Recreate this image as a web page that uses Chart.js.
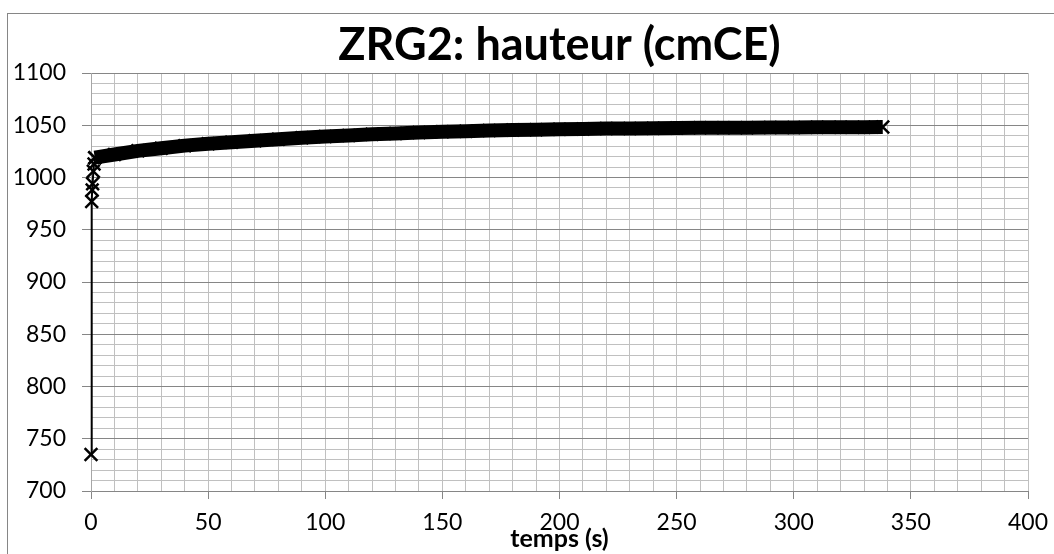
<!DOCTYPE html>
<html>
<head>
<meta charset="utf-8">
<title>ZRG2: hauteur (cmCE)</title>
<script src="https://cdn.jsdelivr.net/npm/chart.js@4/dist/chart.umd.min.js"></script>
<style>
    body { margin: 0; background: #fff; }
    #wrap { position: relative; width: 1054px; height: 554px; overflow: hidden; }
    /* outer frame, only top and left edges are visible */
    #frame { position: absolute; left: 7px; top: 13px; width: 1100px; height: 600px;
             border-left: 1px solid #868686; border-top: 1px solid #868686; }
    #chart { position: absolute; left: 0; top: 0; }
</style>
</head>
<body>
<div id="wrap">
    <div id="frame"></div>
    <canvas id="chart" width="1054" height="554"></canvas>
</div>
<script>
// --- DATA ---
// first seconds: the water level jumps up, drawn with visible crosses
const earlyTime   = [0, 0.3, 0.5, 0.7, 1.0, 1.3, 1.6];
const earlyHeight = [735, 977, 988, 994, 1006, 1013, 1019];

// rest of the record: dense markers, they merge into a thick band
const bandTime   = [1.6, 10, 20, 30, 40, 50, 60, 70, 80, 90, 100, 110, 120, 130, 140, 150,
                    160, 170, 180, 190, 200, 210, 220, 230, 240, 250, 260, 270, 280, 290,
                    300, 310, 320, 330, 338];
const bandHeight = [1019, 1022, 1025.5, 1028, 1030.5, 1032.3, 1033.8, 1035.2, 1036.6, 1038,
                    1039.2, 1040.3, 1041.3, 1042.2, 1043, 1043.7, 1044.3, 1044.9, 1045.4,
                    1045.8, 1046.2, 1046.5, 1046.8, 1047, 1047.2, 1047.4, 1047.5, 1047.6,
                    1047.7, 1047.8, 1047.9, 1048, 1048.1, 1048.2, 1048.3];

const xMin = 0, xMax = 400, xStep = 10;
const yMin = 700, yMax = 1100, yStep = 10;
const labelEvery = 50;

const FONT = 'Lato, "Open Sans", sans-serif';
const MINOR = '#c0c0c0';
const MAJOR = '#868686';

const toPoints = (xs, ys) => xs.map((x, i) => ({ x: x, y: ys[i] }));

const isMajor = v => Math.abs(v % labelEvery) < 1e-6;

new Chart(document.getElementById('chart'), {
    type: 'line',
    data: {
        datasets: [
            {
                label: 'ZRG2 bande',
                data: toPoints(bandTime, bandHeight),
                borderColor: '#000',
                borderWidth: 14,
                pointStyle: 'crossRot',
                pointRadius: 9,
                pointBorderWidth: 2.5,
                pointBorderColor: '#000',
                clip: false,
                tension: 0
            },
            {
                label: 'ZRG2 debut',
                data: toPoints(earlyTime, earlyHeight),
                borderColor: '#000',
                borderWidth: 2,
                pointStyle: 'crossRot',
                pointRadius: 9,
                pointBorderWidth: 2.5,
                pointBorderColor: '#000',
                clip: false,
                tension: 0
            }
        ]
    },
    options: {
        responsive: false,
        animation: false,
        devicePixelRatio: 1,
        layout: { padding: { right: 26 } },
        plugins: {
            legend: { display: false },
            tooltip: { enabled: false },
            title: {
                display: true,
                text: 'ZRG2: hauteur (cmCE)',
                fullSize: false,
                color: '#000',
                font: { family: FONT, size: 45, weight: 'bold', lineHeight: 1.2 },
                padding: { top: 18, bottom: 1 }
            }
        },
        scales: {
            x: {
                type: 'linear',
                min: xMin,
                max: xMax,
                afterFit: s => { s.height = 63; s.paddingLeft = 0; s.paddingRight = 0; },
                ticks: {
                    stepSize: xStep,
                    autoSkip: false,
                    maxRotation: 0,
                    padding: 10,
                    color: '#000',
                    font: { family: FONT, size: 23 },
                    callback: v => isMajor(v) ? v : ''
                },
                grid: {
                    color: MINOR,
                    lineWidth: 1,
                    tickLength: 8,
                    tickColor: c => isMajor(c.tick.value) ? MAJOR : 'rgba(0,0,0,0)'
                },
                border: { color: MAJOR, width: 1 },
                title: {
                    display: true,
                    text: 'temps (s)',
                    color: '#000',
                    font: { family: FONT, size: 25, weight: 'bold', lineHeight: 1.2 },
                    padding: { top: 0, bottom: 0 }
                }
            },
            y: {
                type: 'linear',
                min: yMin,
                max: yMax,
                afterFit: s => { s.width = 91; },
                ticks: {
                    stepSize: yStep,
                    autoSkip: false,
                    padding: 16,
                    color: '#000',
                    font: { family: FONT, size: 23 },
                    callback: v => isMajor(v) ? v : ''
                },
                grid: {
                    color: c => isMajor(c.tick.value) ? MAJOR : MINOR,
                    lineWidth: 1,
                    tickLength: 9,
                    tickColor: c => isMajor(c.tick.value) ? MAJOR : 'rgba(0,0,0,0)'
                },
                border: { color: '#a6a6a6', width: 1 }
            }
        }
    }
});
</script>
</body>
</html>
